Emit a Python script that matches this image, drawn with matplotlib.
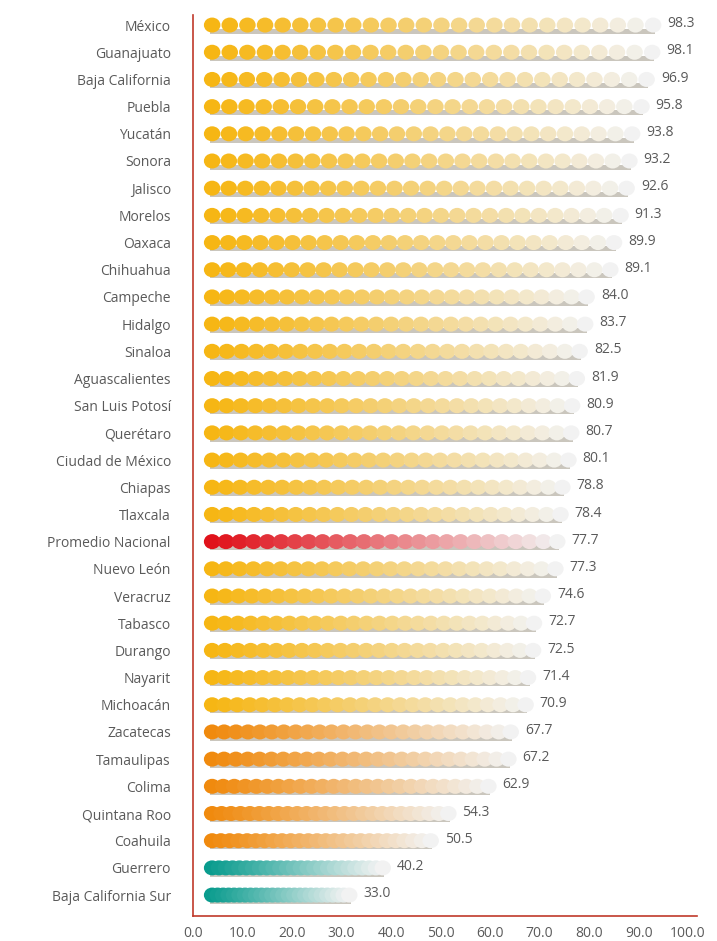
import numpy as np
import matplotlib.pyplot as plt
from matplotlib.colors import to_rgb
from matplotlib.patches import Ellipse, Rectangle

estados = ['México', 'Guanajuato', 'Baja California', 'Puebla', 'Yucatán', 'Sonora',
           'Jalisco', 'Morelos', 'Oaxaca', 'Chihuahua', 'Campeche', 'Hidalgo', 'Sinaloa',
           'Aguascalientes', 'San Luis Potosí', 'Querétaro', 'Ciudad de México', 'Chiapas',
           'Tlaxcala', 'Promedio Nacional', 'Nuevo León', 'Veracruz', 'Tabasco', 'Durango',
           'Nayarit', 'Michoacán', 'Zacatecas', 'Tamaulipas', 'Colima', 'Quintana Roo',
           'Coahuila', 'Guerrero', 'Baja California Sur']
valores = [98.3, 98.1, 96.9, 95.8, 93.8, 93.2, 92.6, 91.3, 89.9, 89.1, 84.0, 83.7, 82.5,
           81.9, 80.9, 80.7, 80.1, 78.8, 78.4, 77.7, 77.3, 74.6, 72.7, 72.5, 71.4, 70.9,
           67.7, 67.2, 62.9, 54.3, 50.5, 40.2, 33.0]
grupos = ['a'] * 19 + ['n'] + ['a'] * 6 + ['o'] * 5 + ['t'] * 2
colores = {'a': '#F6B614', 'n': '#E0121B', 'o': '#F08A0E', 't': '#0A9C8E'}
ticks = np.arange(0, 101, 10)

W, H = 717, 941
n_circ = 26
x0 = 2.2          # las barras empiezan un poco a la derecha del eje
escala = 0.94     # largo de barra por unidad de valor
sw_px, sh_px = 16.5, 15.0   # tamaño fijo de cada círculo (px)

fig = plt.figure(figsize=(W / 100, H / 100), dpi=100)
ax = fig.add_axes([193 / W, 1 - 916 / H, (697 - 193) / W, (916 - 15) / H])
xmax = 101.8
ymin, ymax = -0.37, len(estados) - 1 + 0.77
ax.set_xlim(0, xmax)
ax.set_ylim(ymax, ymin)

px_x = (697 - 193) / xmax          # pixeles por unidad x
px_y = (916 - 15) / (ymax - ymin)  # pixeles por unidad y
sw = sw_px / px_x
sh = sh_px / px_y

blanco = np.array([0.95, 0.95, 0.95])

for i, (v, g) in enumerate(zip(valores, grupos)):
    largo = escala * v
    paso = (largo - sw) / (n_circ - 1)
    c0 = np.array(to_rgb(colores[g]))
    # sombra gris debajo de la barra
    ax.add_patch(Rectangle((x0 + sw * 0.4, i + sh * 0.25), largo - sw * 0.8, sh * 0.25 + 1.2 / px_y,
                           facecolor='#a09888', edgecolor='none', alpha=0.55, zorder=1))
    for k in range(n_circ):
        t = k / (n_circ - 1)
        col = c0 + (blanco - c0) * t ** 1.1
        ax.add_patch(Ellipse((x0 + sw / 2 + paso * k, i), sw, sh,
                             facecolor=col, edgecolor='none', zorder=2))
    ax.text(x0 + largo + 1.2, i - 0.05, f'{v:.1f}', va='center', ha='left',
            fontsize=10, color='#5a5a5a', family='Open Sans')

ax.set_yticks(range(len(estados)))
ax.set_yticklabels(estados, fontsize=10, color='#5a5a5a', family='Open Sans')
ax.set_xticks(ticks)
ax.set_xticklabels([f'{t:.1f}' for t in ticks], fontsize=10, color='#5a5a5a', family='Open Sans')
ax.tick_params(axis='both', length=0)
ax.tick_params(axis='y', pad=16)
ax.tick_params(axis='x', pad=7)

for s in ['top', 'right']:
    ax.spines[s].set_visible(False)
for s in ['left', 'bottom']:
    ax.spines[s].set_color('#C0392B')
    ax.spines[s].set_linewidth(1.2)

plt.savefig('out.png', dpi=100)
plt.close()
